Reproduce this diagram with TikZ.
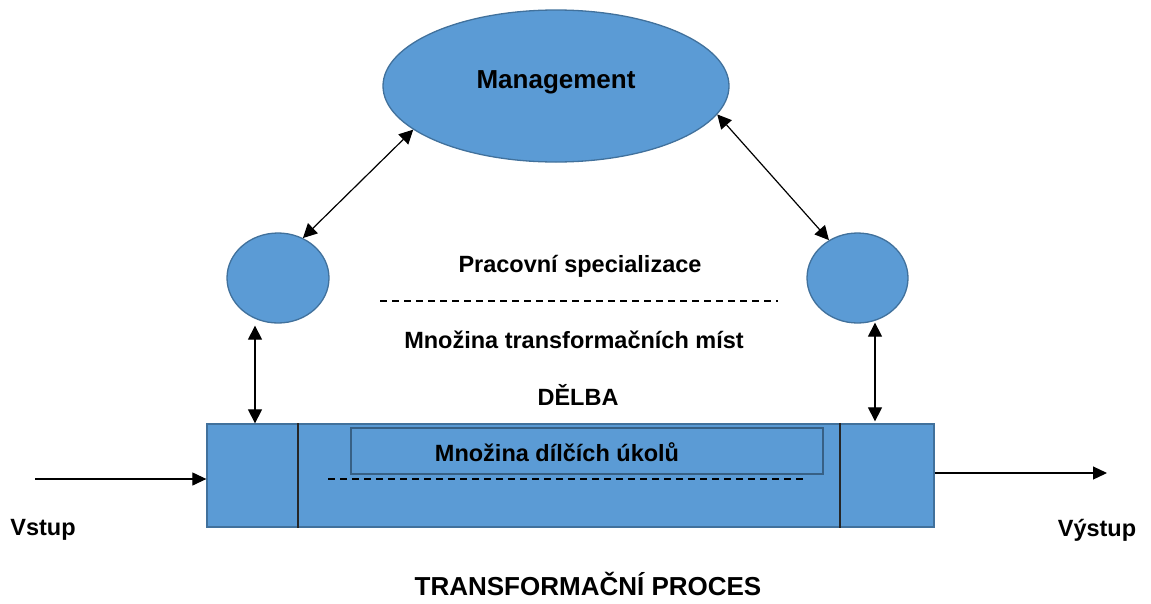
\documentclass[tikz,border=0pt]{standalone}
\usepackage{fontspec}
\setmainfont{Liberation Sans}
\usetikzlibrary{shapes.geometric,arrows.meta}
\definecolor{fillblue}{HTML}{5B9BD5}
\definecolor{edgeblue}{HTML}{41719C}
\tikzset{
  blob/.style={ellipse, fill=fillblue, draw=edgeblue, line width=1.3pt, inner sep=0pt},
  lbl/.style={font=\bfseries\fontsize{23.5}{26}\selectfont, inner sep=0pt},
  biglbl/.style={font=\bfseries\fontsize{26}{28}\selectfont, inner sep=0pt},
  dbl/.style={{Triangle[length=14pt,width=14pt]}-{Triangle[length=14pt,width=14pt]}, line width=1.2pt},
  single/.style={-{Triangle[length=14pt,width=13pt]}, line width=1.2pt},
  dashline/.style={dash pattern=on 7pt off 5pt, line width=1.3pt},
}
\begin{document}
\begin{tikzpicture}[x=1pt,y=-1pt]
\useasboundingbox (0,0) rectangle (1151,603);
% shapes
\node[blob, minimum width=346pt, minimum height=152pt] (mg) at (556,86) {};
\node[biglbl] (mgt) at (556,82) {Management};
\node[blob, minimum width=102pt, minimum height=90pt] (lc) at (278,278) {};
\node[blob, minimum width=101pt, minimum height=90pt] (rc) at (857.5,278) {};
\node[rectangle, fill=fillblue, draw=edgeblue, line width=1.3pt, minimum width=727pt, minimum height=103pt, inner sep=0pt] (proc) at (570.5,475.5) {};
\node[rectangle, fill=fillblue, draw=edgeblue!85!black, line width=1.8pt, minimum width=472pt, minimum height=46pt, inner sep=0pt] (sub) at (587,451) {};
% dividers
\coordinate (d1) at (298,0);
\coordinate (d2) at (840,0);
\draw[line width=1.2pt, black!85] (proc.north -| d1) -- (proc.south -| d1);
\draw[line width=1.2pt, black!85] (proc.north -| d2) -- (proc.south -| d2);
% texts
\node[lbl] (spec) at (580,266) {Pracovní specializace};
\node[lbl] (mist) at (574,340) {Množina transformačních míst};
\node[lbl] (delba) at (578,395) {DĚLBA};
\node[lbl] (ukol) at (557,452) {Množina dílčích úkolů};
\node[lbl] (vstup) at (43,530) {Vstup};
\node[lbl] (vystup) at (1097,530) {Výstup};
\node[biglbl, anchor=base] (tp) at (588,595) {TRANSFORMAČNÍ PROCES};
% dashed lines
\coordinate (ds1) at (380,301);
\coordinate (de1) at (778,301);
\draw[dashline] (ds1) -- (de1);
\coordinate (ds2) at (328,479);
\coordinate (de2) at (807,479);
\draw[dashline] (ds2) -- (de2);
% connectors
\draw[dbl] (lc.58) -- (mg.197);
\draw[dbl] (mg.-10) -- (rc.127);
\coordinate (lv) at (255,0);
\coordinate (rv) at (875,0);
\draw[dbl] (lc.south -| lv) ++(0,2) -- (proc.north -| lv);
\draw[dbl] (rc.south -| rv) ++(0,-1) -- ([yshift=2pt]proc.north -| rv);
\coordinate (in) at (35,479);
\coordinate (out) at (1107,473);
\draw[single] (in) -- (in -| proc.west);
\draw[single] (proc.east |- out) -- (out);
\end{tikzpicture}
\end{document}
